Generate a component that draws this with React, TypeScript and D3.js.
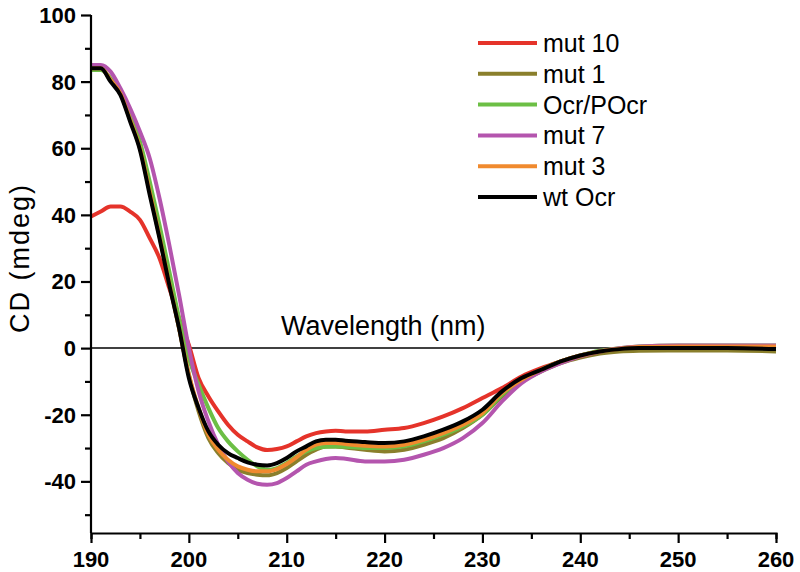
import { useEffect, useRef } from 'react';
import * as d3 from 'd3';

const W = 800;
const H = 572;

const wavelengths = [
  190, 191, 192, 193, 194, 195, 196, 197, 198, 199, 200, 201, 202, 203, 204, 205, 206, 207, 208, 209,
  210, 211, 212, 213, 214, 215, 216, 218, 220, 222, 224, 226, 228, 230, 232, 234, 236, 238, 240, 242,
  244, 246, 250, 255, 260,
];

const mut10 = [
  39.5, 41, 42.5, 42.5, 41, 38.5, 33, 27, 18, 9, 1, -9, -14.5, -19, -23, -26, -28, -29.8, -30.6, -30.3,
  -29.5, -28, -26.5, -25.5, -25, -24.8, -25, -25, -24.5, -24, -22.5, -20.5, -18, -15, -12, -8.5, -6, -4, -2.2, -1,
  -0.2, 0.3, 0.5, 0.5, 0.5,
];
const mut1 = [
  84, 84, 80.5, 76.5, 69, 60.5, 47.5, 34, 20, 6, -8, -19, -27, -31.5, -34.5, -36.5, -37.5, -38, -38.2, -37.5,
  -36, -34, -32, -30.5, -29.5, -29.5, -29.8, -30.5, -31, -30.5, -29, -27, -24, -20, -14.5, -10, -7, -4.5, -2.8, -1.6,
  -1, -0.8, -0.7, -0.7, -1,
];
const ocrPOcr = [
  83.5, 83.5, 81, 77, 70, 62, 50, 37, 23, 9, -3, -11, -18, -24, -28, -31, -33.5, -35.5, -36.5, -36,
  -34.5, -32.5, -31, -30, -29.6, -29.5, -29.6, -30, -30, -29.5, -28, -26, -23.5, -20, -14, -9.5, -6.5, -4, -2.2, -0.8,
  0, 0.5, 0.8, 0.8, 0.8,
];
const mut7 = [
  85, 85, 83, 78, 72, 65, 57, 45, 31, 16, 0, -13, -22, -29, -34, -37.5, -39.5, -40.7, -41, -40.5,
  -39, -37, -35, -34, -33.3, -33, -33.2, -34, -34, -33.5, -32, -30, -27, -22.5, -16, -10.5, -7, -4.5, -2.5, -1,
  0, 0.5, 0.8, 0.8, 0.8,
];
const mut3 = [
  84, 84, 80.5, 76.5, 68.5, 60, 47, 33.5, 19.5, 6, -8, -18, -26, -30.5, -33.5, -35.5, -36.5, -37, -37, -36.3,
  -34.8, -32.8, -30.5, -29, -28.5, -28.5, -28.8, -29.3, -29.5, -29, -27.5, -25.5, -23, -19.5, -13.5, -9.5, -6.5, -4, -2.3, -1,
  -0.2, 0.3, 0.5, 0.5, 0.5,
];
const wtOcr = [
  84, 84, 80, 76, 68, 59.5, 46, 33, 19, 6, -9, -18, -25, -29, -31.5, -33, -34.3, -35, -35.2, -34.5,
  -33, -31, -29.5, -28, -27.5, -27.5, -27.8, -28.2, -28.5, -28, -26.5, -24.5, -22, -18.5, -13, -9, -6.5, -4, -2.2, -1,
  -0.3, 0, 0, 0, -0.3,
];

const seriesNames = ['mut 10', 'mut 1', 'Ocr/POcr', 'mut 7', 'mut 3', 'wt Ocr'];
const seriesValues = [mut10, mut1, ocrPOcr, mut7, mut3, wtOcr];
const seriesColors = ['#e5332a', '#8a7f2c', '#6cbf45', '#b455ae', '#f08a2e', '#000000'];

const xTicks = [190, 200, 210, 220, 230, 240, 250, 260];
const yTicks = [-40, -20, 0, 20, 40, 60, 80, 100];

export default function App() {
  const svgRef = useRef<SVGSVGElement>(null);

  useEffect(() => {
    if (!svgRef.current) return;
    const svg = d3.select(svgRef.current);
    svg.selectAll('*').remove();

    const x = d3.scaleLinear().domain([190, 260]).range([91, 776]);
    const y = d3.scaleLinear().domain([-55.5, 100]).range([533, 15]);

    // zero line
    svg
      .append('line')
      .attr('x1', x(190))
      .attr('x2', x(260))
      .attr('y1', y(0))
      .attr('y2', y(0))
      .attr('stroke', '#000')
      .attr('stroke-width', 1.5);

    const line = d3
      .line<[number, number]>()
      .x((d) => x(d[0]))
      .y((d) => y(d[1]))
      .curve(d3.curveMonotoneX);

    seriesValues.forEach((vals, i) => {
      svg
        .append('path')
        .datum(wavelengths.map((w, j) => [w, vals[j]] as [number, number]))
        .attr('d', line)
        .attr('fill', 'none')
        .attr('stroke', seriesColors[i])
        .attr('stroke-width', 4)
        .attr('stroke-linejoin', 'round');
    });

    // axes
    const font = 'Liberation Sans, Arial, sans-serif';
    const xAxis = svg.append('g').attr('transform', `translate(0,${y(-55.5)})`);
    xAxis
      .call(d3.axisBottom(x).tickValues(d3.range(190, 261, 5)).tickSize(6).tickFormat(() => ''))
      .call((g) => g.select('.domain').attr('stroke-width', 2.2));
    xAxis.selectAll('.tick line').attr('stroke-width', 2.2).attr('y2', (d: any) => (d % 10 === 0 ? 10 : 6));
    xAxis
      .selectAll('.xlab')
      .data(xTicks)
      .join('text')
      .attr('x', (d) => x(d))
      .attr('y', 567 - 533)
      .attr('text-anchor', 'middle')
      .style('font-family', font)
      .style('font-size', '22px')
      .style('font-weight', 'bold')
      .attr('fill', '#000')
      .text((d) => d);

    const yAxis = svg.append('g').attr('transform', `translate(${x(190)},0)`);
    yAxis
      .call(d3.axisLeft(y).tickValues(d3.range(-50, 101, 10)).tickSize(6).tickFormat(() => ''))
      .call((g) => g.select('.domain').attr('stroke-width', 2.2).attr('d', `M0,${y(-55.5)}V${y(100)}`));
    yAxis.selectAll('.tick line').attr('stroke-width', 2.2).attr('x2', (d: any) => (d % 20 === 0 ? -10 : -6));
    yAxis
      .selectAll('.ylab')
      .data(yTicks)
      .join('text')
      .attr('x', -15)
      .attr('y', (d) => y(d) + 8)
      .attr('text-anchor', 'end')
      .style('font-family', font)
      .style('font-size', '22px')
      .style('font-weight', 'bold')
      .attr('fill', '#000')
      .text((d) => d);

    // axis titles
    svg
      .append('text')
      .attr('x', 281)
      .attr('y', 335)
      .style('font-family', font)
      .style('font-size', '27px')
      .attr('fill', '#000')
      .text('Wavelength (nm)');

    svg
      .append('text')
      .attr('transform', `translate(29,258) rotate(-90)`)
      .attr('text-anchor', 'middle')
      .style('font-family', font)
      .style('font-size', '27px')
      .style('letter-spacing', '2px')
      .attr('fill', '#000')
      .text('CD (mdeg)');

    // legend
    const legend = svg.append('g');
    seriesNames.forEach((name, i) => {
      const cy = 43 + i * 30.8;
      legend
        .append('line')
        .attr('x1', 478)
        .attr('x2', 537)
        .attr('y1', cy)
        .attr('y2', cy)
        .attr('stroke', seriesColors[i])
        .attr('stroke-width', 4);
      legend
        .append('text')
        .attr('x', 543)
        .attr('y', cy + 9)
        .style('font-family', font)
        .style('font-size', '25px')
        .attr('fill', '#000')
        .text(name);
    });
  }, []);

  return (
    <svg
      ref={svgRef}
      width={W}
      height={H}
      viewBox={`0 0 ${W} ${H}`}
      style={{ position: 'absolute', left: 0, top: 0, background: '#fff' }}
    />
  );
}
